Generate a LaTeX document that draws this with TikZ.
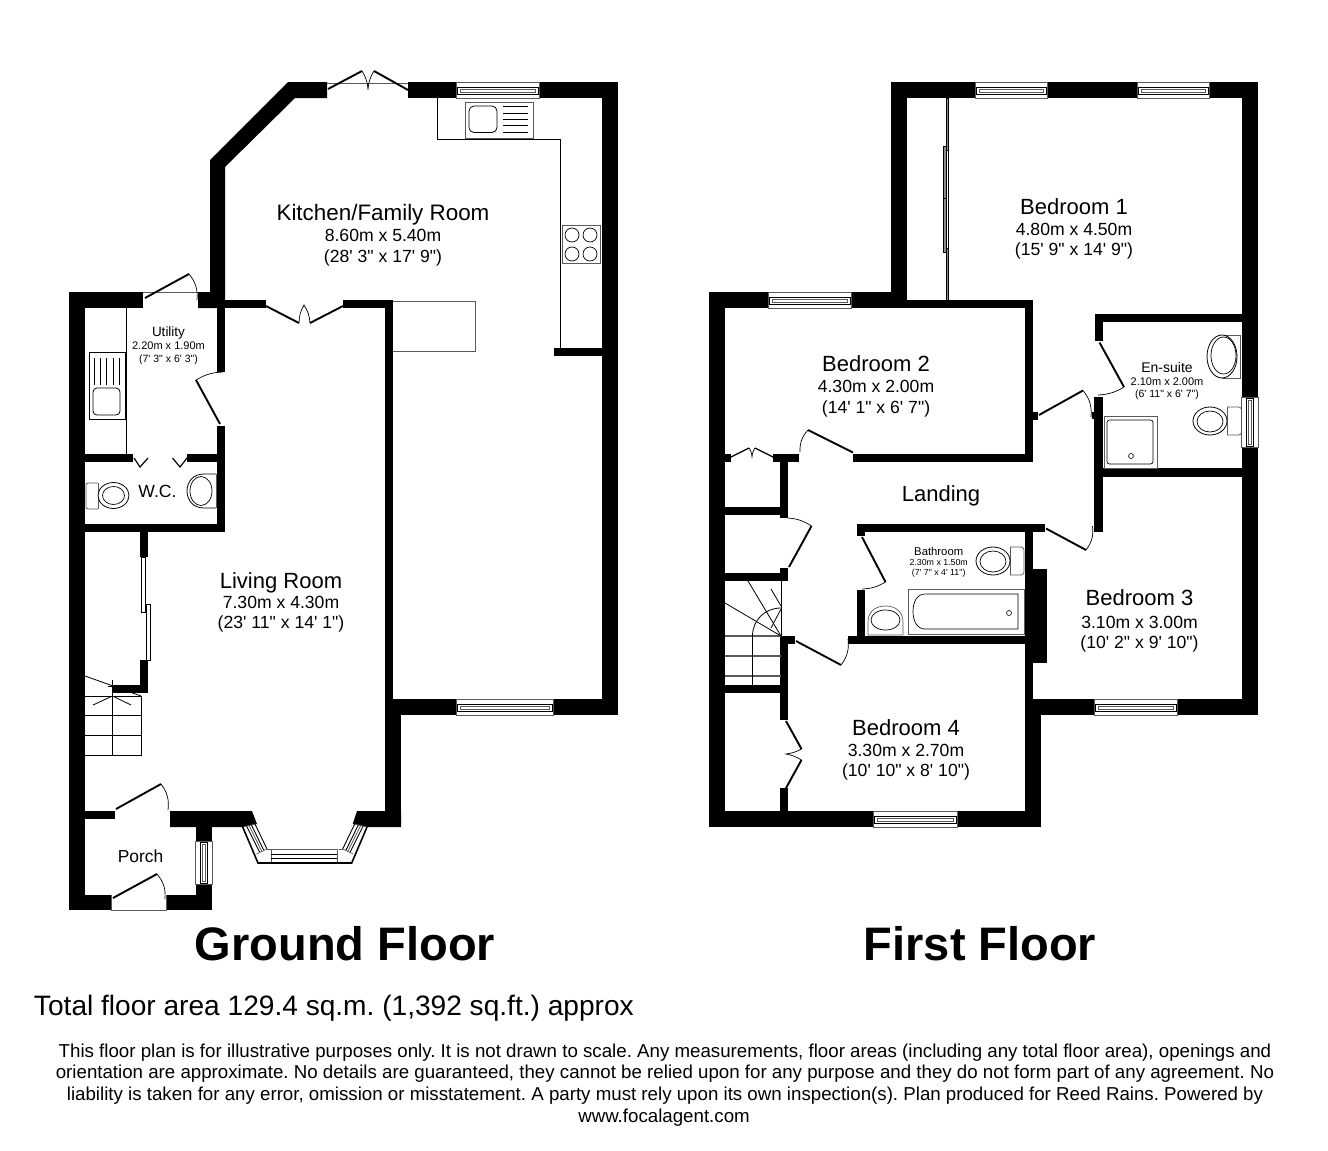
\documentclass[tikz,border=0pt]{standalone}
\usepackage{fontspec}
\newfontfamily\fp{Liberation Sans}
\newcommand\fs[1]{\fp\fontsize{#1}{#1}\selectfont\frenchspacing}
\definecolor{wgray}{RGB}{90,90,90}
\definecolor{fgray}{RGB}{140,140,140}
\newcommand\wl[4]{\fill[black] (#1,#2) rectangle (#3,#4);}
\newcommand\hwin[3]{% x1 x2 ytop
 \draw[wgray,line width=.7pt,fill=white] (#1,#3) rectangle (#2,#3+16);
 \draw[black,line width=.8pt] (#1+1,#3+5.5) rectangle (#2-1,#3+12);
 \draw[wgray,line width=.6pt] (#1+4,#3+7.5) rectangle (#2-4,#3+10.5);}
\newcommand\vwin[3]{% y1 y2 xleft
 \draw[wgray,line width=.7pt,fill=white] (#3,#1) rectangle (#3+17,#2);
 \draw[black,line width=.8pt] (#3+5.5,#1+1) rectangle (#3+12,#2-1);
 \draw[wgray,line width=.6pt] (#3+7.5,#1+3) rectangle (#3+10.5,#2-3);}
\newcommand\baywin{%
 \draw[black,line width=.9pt] (255,824) -- (267,849);
 \draw[black,line width=.9pt] (251.4,825) -- (263.9,850.5);
 \draw[wgray,line width=.8pt] (249,825.5) -- (261.9,851.5);
 \draw[black,line width=.9pt] (246.6,826.1) -- (259.8,852.5);
 \draw[wgray,line width=.7pt] (243,827) -- (255,824);
 \draw[wgray,line width=.7pt] (267,849) -- (256.5,854);
 \draw[black,line width=1.6pt] (242.7,827) -- (258,863) -- (272,863);
 \draw[wgray,line width=.7pt] (267,849) -- (271,849);}
\tikzset{
 leaf/.style={black,line width=1.9pt},
 swing/.style={black,line width=.7pt},
 thin line/.style={black,line width=.8pt},
 gline/.style={wgray,line width=.9pt},
 opening/.style={wgray,line width=.7pt},
 lbl/.style={anchor=base,inner sep=0pt,outer sep=0pt},
 slide/.style={draw=black,line width=.6pt,fill=fgray},
}
\begin{document}
\begin{tikzpicture}[x=1pt,y=-1pt]
\useasboundingbox (0,0) rectangle (1328,1151);
\fill[white] (0,0) rectangle (1328,1151);

%% ================= GROUND FLOOR =================
% walls
\fill[black] (288,82) -- (327,82) -- (327,98) -- (295,98) -- (225,167) -- (225,308) -- (198,308) -- (198,292) -- (210,292) -- (210,160) -- cycle;
\wl{408}{82}{617.5}{98}
\wl{602}{82}{617.5}{715}
\wl{393}{699}{617.5}{715}
\wl{554}{348}{602}{356}
\wl{69}{292}{143}{308}
\wl{69}{292}{85}{910}
\wl{225}{300}{265.5}{308}
\wl{343}{300}{393}{308}
\wl{385}{300}{393}{715}
\wl{385}{715}{401}{827}
\wl{217}{300}{225}{372}
\wl{217}{426}{225}{532}
\wl{85}{454}{133}{462}
\wl{187}{454}{217}{462}
\wl{85}{524}{225}{532}
\wl{140}{532}{148}{557}
\wl{140}{660}{148}{693}
\wl{113}{685}{148}{693}
\wl{85}{811}{115}{819}
\wl{170}{811}{212}{819}
\wl{196}{811}{212}{842}
\wl{196}{885}{212}{910}
\wl{69}{895}{111.5}{910}
\wl{166}{895}{212}{910}

% bay window
\fill[black] (170,811) -- (252,811) -- (257,824) -- (242.7,827) -- (170,827) -- cycle;
\fill[black] (357,811) -- (401,811) -- (401,827) -- (367,827) -- (352.7,824) -- cycle;
\baywin
\begin{scope}[shift={(609.7,0)},xscale=-1]
\baywin
\end{scope}
\draw[wgray,line width=.7pt,fill=white] (271,849) rectangle (337,863);
\draw[black,line width=.8pt] (271,854) -- (337,854);
\draw[black,line width=.8pt] (271,858.5) -- (337,858.5);
\draw[black,line width=1.6pt] (258,863) -- (351.7,863);

% windows
\hwin{456}{539}{82}
\hwin{456}{553}{699}
\vwin{841}{884.5}{195}

% door openings
\draw[opening] (143,292.5) -- (198,292.5);
\draw[opening] (327,83) -- (408,83);
\draw[opening] (111.5,895) -- (111.5,910) -- (166,910) -- (166,895);

% doors
\draw[leaf] (145,298) -- (189,274);
\draw[swing] (189,274) to[bend left=22] (197,300);
\draw[leaf] (266,306) -- (299,323);
\draw[swing] (299,323) to[bend left=14] (304,305) to[bend left=14] (310,323);
\draw[leaf] (343,306) -- (310,323);
\draw[leaf] (328,89) -- (362,71);
\draw[swing] (362,71) to[bend left=14] (368,90) to[bend left=14] (374,71);
\draw[leaf] (374,71) -- (408,90);
\draw[leaf] (196,380) -- (220,424);
\draw[swing] (196,380) to[bend left=14] (223,372);
\draw[leaf,line width=1.2pt] (134,458) -- (140,467) -- (148,458);
\draw[leaf,line width=1.2pt] (187,458) -- (180,467) -- (172.5,458);
\draw[leaf] (116,809) -- (161,784);
\draw[swing] (161,784) to[bend left=22] (168,810);
\draw[leaf] (113,898) -- (157,874);
\draw[swing] (157,874) to[bend left=22] (165,899);

% sliding doors
\draw[black,line width=.7pt,fill=white] (141,557) rectangle (145.5,612);
\draw[black,line width=.7pt,fill=white] (146,604) rectangle (150,660);

% stairs
\draw[thin line] (85,676) -- (141,696);
\draw[thin line] (85,696) -- (141,696) -- (141,755) -- (85,755);
\draw[thin line] (85,715) -- (141,715);
\draw[thin line] (85,735) -- (141,735);
\draw[thin line] (112.5,680) -- (112.5,755);
\draw[thin line] (112.5,696) -- (93,705);
\draw[thin line] (112.5,696) -- (131,705);
\draw[thin line] (108,686) -- (117,686);

% utility fittings
\draw[thin line] (126.5,308) -- (126.5,454);
\draw[thin line] (89,352) rectangle (125,419);
\draw[thin line,rounded corners=4pt] (93,388) rectangle (120,415);
\foreach \xx in {94,100,106,113,119}{\draw[thin line] (\xx,358) -- (\xx,385);}

% W.C.
\draw[gline,rounded corners=2pt,line width=.8pt] (98,483) -- (86,483) -- (86,509) -- (98,509);
\draw[gline,line width=.8pt] (98,483) -- (98,509);
\draw[black,line width=.8pt,fill=white] (113.5,495.5) ellipse [x radius=15.5,y radius=13];
\draw[black,line width=.7pt] (113.5,495.5) ellipse [x radius=11,y radius=9];
\draw[gline,line width=.7pt] (216,474) -- (216,508);
\draw[black,line width=.8pt] (216,474) -- (204,474) .. controls (193,474) and (187,482) .. (187,491) .. controls (187,500) and (193,508) .. (204,508) -- (216,508);
\draw[black,line width=.7pt] (201,491) ellipse [x radius=11,y radius=14.5];

% kitchen fittings
\draw[thin line] (437.5,98) -- (437.5,139) -- (560.7,139) -- (560.7,348);
\draw[gline,fill=white] (465,102) rectangle (533,138);
\draw[thin line,rounded corners=5pt] (469,106) rectangle (497,132.5);
\foreach \yy in {106.7,113,119.3,125.7,132}{\draw[thin line] (503,\yy) -- (528,\yy);}
\draw[gline,fill=white] (562,225) rectangle (600.5,263);
\foreach \xx/\yy in {572/235,590/235,572/254,590/254}{\draw[black,line width=.7pt] (\xx,\yy) circle [radius=7];}
\draw[gline] (393,301) -- (475,301) -- (475,351) -- (393,351);

%% ================= FIRST FLOOR =================
\wl{891}{82}{1257.5}{98}
\wl{891}{82}{907}{308}
\wl{1242}{82}{1257.5}{715}
\wl{709}{292}{907}{308}
\wl{907}{300}{1033}{308}
\wl{1025}{300}{1033}{462}
\wl{853}{454}{1033}{462}
\wl{1033}{412}{1038}{420}
\wl{709}{292}{725}{826.5}
\wl{725}{454}{731}{462}
\wl{773}{454}{799}{462}
\wl{780}{454}{788}{518}
\wl{725}{507}{780}{515}
\wl{780}{568}{788}{581}
\wl{725}{573}{788}{581}
\wl{780}{636}{788}{720}
\wl{780}{636}{795}{644}
\wl{725}{685}{780}{693}
\wl{780}{788}{788}{811}
\wl{709}{811}{1041}{826.5}
\wl{848}{636}{1033}{644}
\wl{857}{524}{1045}{532}
\wl{857}{524}{865}{536}
\wl{857}{590}{865}{636}
\wl{1025}{524}{1033}{715}
\wl{1033}{569}{1046.5}{662.5}
\wl{1025}{699}{1041}{826.5}
\wl{1033}{699}{1257.5}{715}
\wl{1094}{397}{1102.5}{532}
\wl{1092}{412}{1094}{419}
\wl{1095}{314}{1242}{322}
\wl{1095}{314}{1103}{341}
\wl{1102}{468}{1242}{476.5}

% windows
\hwin{975}{1047}{82}
\hwin{1137}{1209}{82}
\hwin{768}{851}{292}
\hwin{1094}{1177}{699}
\hwin{873}{957}{811}
\vwin{397}{447}{1241}

% doors
\draw[leaf] (808,430) -- (853,452.5);
\draw[swing] (808,430) to[bend right=22] (800,452);
\draw[leaf,line width=1.2pt] (731,457) -- (749,448);
\draw[swing] (749,448) to[bend left=16] (752,458) to[bend left=16] (755,448);
\draw[leaf,line width=1.2pt] (755,448) -- (773,457);
\draw[swing] (788,518) to[bend left=14] (811.5,526);
\draw[leaf] (811.5,526) -- (789,567);
\draw[leaf] (796,641) -- (841,665);
\draw[swing] (841,665) to[bend right=22] (848,639);
\draw[leaf] (862,537) -- (885.5,582);
\draw[swing] (885.5,582) to[bend left=14] (862,589);
\draw[leaf] (1046,528.5) -- (1086,550);
\draw[swing] (1086,550) to[bend right=22] (1092.5,526);
\draw[leaf] (1099.5,342.5) -- (1124,387);
\draw[swing] (1124,387) to[bend left=14] (1098,395);
\draw[leaf] (1039,415) -- (1083,390.5);
\draw[swing] (1083,390.5) to[bend left=22] (1091,417);
\draw[leaf] (786,721) -- (801.5,749);
\draw[swing] (801.5,749) to[bend left=10] (786,754) to[bend left=10] (801.5,760);
\draw[leaf] (801.5,760) -- (786,788);

% sliding wardrobe
\draw[slide] (946,98) rectangle (948.7,150);
\draw[black,line width=.6pt,fill=white] (946,150) rectangle (948.7,248);
\draw[slide] (946,248) rectangle (948.7,300);
\draw[slide] (943,146) rectangle (946,198);
\draw[slide] (943,198) rectangle (946,252);

% stairs
\draw[thin line] (781,581) -- (781,636);
\draw[gline,line width=1.1pt] (725,636) -- (781,636);
\draw[gline,line width=1.1pt] (725,656) -- (781,656);
\draw[gline,line width=1.1pt] (725,676) -- (781,676);
\draw[thin line] (752.5,685) -- (752.5,636) .. controls (752.5,620) and (765,608) .. (781,608);
\draw[thin line] (725,603) -- (781,636);
\draw[thin line] (748,581) -- (781,636);
\draw[thin line] (771,589) -- (781,606);
\draw[thin line] (771,628) -- (781,609);

% en-suite fittings
\draw[gline,line width=.7pt] (1222,335) -- (1240.5,335) -- (1240.5,378) -- (1222,378);
\draw[black,line width=.8pt,fill=white] (1222,356.5) ellipse [x radius=15,y radius=21.5];
\draw[black,line width=.7pt] (1223.5,355.5) ellipse [x radius=12.5,y radius=18.5];
\draw[gline,rounded corners=3pt,line width=.7pt] (1227,407) -- (1241.5,407) -- (1241.5,435) -- (1227,435);
\draw[gline,line width=.7pt] (1227,407) -- (1227,435);
\draw[black,line width=.8pt] (1210,421) ellipse [x radius=17,y radius=14];
\draw[black,line width=.7pt] (1210,421.5) ellipse [x radius=13,y radius=10.5];
\draw[wgray,line width=.8pt] (1104,416) rectangle (1157,468);
\draw[black,line width=.7pt,rounded corners=2.5pt] (1107,420) rectangle (1153,464);
\draw[black,line width=.6pt] (1131,456) circle [radius=2.5];

% bathroom fittings
\draw[gline,rounded corners=3pt,line width=.7pt] (1010,547) -- (1024,547) -- (1024,575) -- (1010,575);
\draw[gline,line width=.7pt] (1010,547) -- (1010,575);
\draw[black,line width=.8pt] (993,561) ellipse [x radius=17,y radius=14];
\draw[black,line width=.7pt] (993,561.5) ellipse [x radius=13,y radius=10.5];
\draw[wgray,line width=.8pt] (908,589) rectangle (1024,634);
\draw[black,line width=.7pt] (1018,594) -- (925,594) .. controls (917,594) and (913,602) .. (913,611.5) .. controls (913,621) and (917,629) .. (925,629) -- (1018,629) -- cycle;
\draw[black,line width=.6pt] (1009,613) circle [radius=2.5];
\draw[wgray,line width=.7pt] (868,635) -- (868,622) .. controls (868,612) and (875,606) .. (885.5,606) .. controls (896,606) and (903,612) .. (903,622) -- (903,635) -- cycle;
\draw[black,line width=.7pt] (885.5,620) ellipse [x radius=14.5,y radius=10];

%% ================= TEXT =================
\node[lbl] (kt1) at (383,220.7) {\fs{22.4}Kitchen/Family Room};
\node[lbl] (kt2) at (383,241.5) {\fs{17.6}8.60m x 5.40m};
\node[lbl] (kt3) at (383,262) {\fs{17.6}(28' 3" x 17' 9")};
\node[lbl] (ut1) at (168.5,336.7) {\fs{13.5}Utility};
\node[lbl] (ut2) at (168.5,349.3) {\fs{11}2.20m x 1.90m};
\node[lbl] (ut3) at (168.5,362) {\fs{10.5}(7' 3" x 6' 3")};
\node[lbl] (wc) at (157.5,497.7) {\fs{17.6}W.C.};
\node[lbl] (lv1) at (281,588) {\fs{22}Living Room};
\node[lbl] (lv2) at (281,608) {\fs{17.6}7.30m x 4.30m};
\node[lbl] (lv3) at (281,628.5) {\fs{17.6}(23' 11" x 14' 1")};
\node[lbl] (po) at (140.5,862.7) {\fs{17.4}Porch};
\node[lbl] (b11) at (1074,214) {\fs{22}Bedroom 1};
\node[lbl] (b12) at (1074,235) {\fs{17.6}4.80m x 4.50m};
\node[lbl] (b13) at (1074,255) {\fs{17.6}(15' 9" x 14' 9")};
\node[lbl] (b21) at (876,371.7) {\fs{22}Bedroom 2};
\node[lbl] (b22) at (876,392.7) {\fs{17.6}4.30m x 2.00m};
\node[lbl] (b23) at (876,413) {\fs{17.6}(14' 1" x 6' 7")};
\node[lbl] (b31) at (1139.5,605.7) {\fs{22}Bedroom 3};
\node[lbl] (b32) at (1139.5,628) {\fs{17.6}3.10m x 3.00m};
\node[lbl] (b33) at (1139.5,648) {\fs{17.6}(10' 2" x 9' 10")};
\node[lbl] (b41) at (906,735) {\fs{22}Bedroom 4};
\node[lbl] (b42) at (906,756) {\fs{17.6}3.30m x 2.70m};
\node[lbl] (b43) at (906,776) {\fs{17.6}(10' 10" x 8' 10")};
\node[lbl] (ld) at (941,501) {\fs{22}Landing};
\node[lbl] (es1) at (1167,372) {\fs{14}En-suite};
\node[lbl] (es2) at (1167,385.7) {\fs{11}2.10m x 2.00m};
\node[lbl] (es3) at (1167,397.7) {\fs{10.5}(6' 11" x 6' 7")};
\node[lbl] (ba1) at (938.7,555.7) {\fs{11.3}Bathroom};
\node[lbl] (ba2) at (938.7,565.7) {\fs{8.8}2.30m x 1.50m};
\node[lbl] (ba3) at (938.7,575.7) {\fs{8.8}(7' 7" x 4' 11")};
\node[lbl] (gf) at (345,960) {\fs{47}\bfseries Ground Floor};
\node[lbl] (ff) at (980,960) {\fs{47}\bfseries First Floor};
\node[lbl,anchor=base west] (ta) at (34,1015.5) {\fs{28.1}Total floor area 129.4 sq.m. (1,392 sq.ft.) approx};
\node[lbl] (d1) at (665,1057.5) {\fs{18.7}This floor plan is for illustrative purposes only. It is not drawn to scale. Any measurements, floor areas (including any total floor area), openings and};
\node[lbl] (d2) at (665,1078.5) {\fs{18.7}orientation are approximate. No details are guaranteed, they cannot be relied upon for any purpose and they do not form part of any agreement. No};
\node[lbl] (d3) at (665,1100.5) {\fs{18.7}liability is taken for any error, omission or misstatement. A party must rely upon its own inspection(s). Plan produced for Reed Rains. Powered by};
\node[lbl] (d4) at (664,1122.5) {\fs{18.7}www.focalagent.com};
\end{tikzpicture}
\end{document}
